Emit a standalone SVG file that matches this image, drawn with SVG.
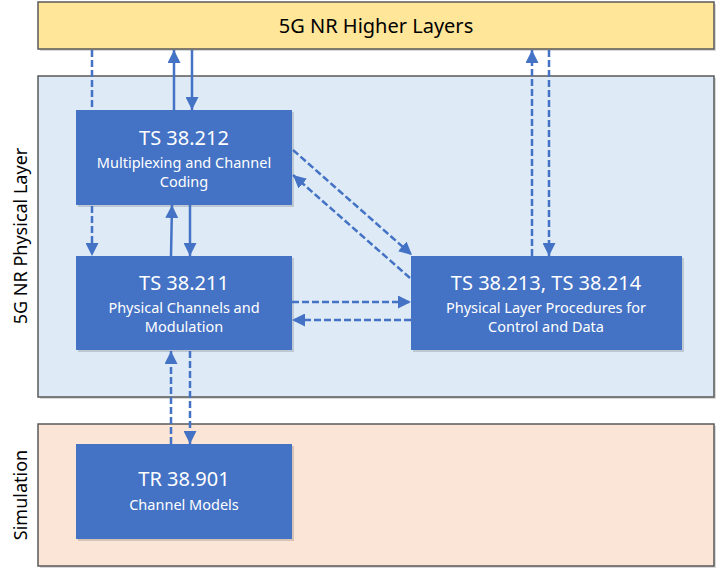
<svg xmlns="http://www.w3.org/2000/svg" width="720" height="572" viewBox="0 0 720 572">
<style>
.panel{stroke:#595959;stroke-width:1.5}
.box{fill:#4472C4}
.shadow{fill:#000;opacity:0.15}
.t1{font-family:"Noto Sans","Open Sans",sans-serif;font-size:20px;fill:#fff;text-anchor:middle}
.t2{font-family:"Noto Sans","Open Sans",sans-serif;font-size:14.5px;fill:#fff;text-anchor:middle}
.lab{font-family:"Noto Sans","Open Sans",sans-serif;font-size:18px;fill:#000;text-anchor:middle}
.c{fill:none;stroke:#4472C4;stroke-width:2.5}
.d{stroke-dasharray:7 3}
</style>
<defs>
<marker id="ah" markerUnits="userSpaceOnUse" markerWidth="13" markerHeight="13" viewBox="0 0 10 10" refX="10" refY="5" orient="auto">
<path d="M0,0 L10,5 L0,10 z" fill="#4472C4"/>
</marker>
</defs>

<g id="higher-layers">
<rect x="40" y="4" width="676" height="47" class="shadow"/>
<rect x="38" y="2" width="676" height="47" fill="#FFE699" class="panel"/>
<text x="376" y="33" class="lab" style="font-size:20px">5G NR Higher Layers</text>
</g>

<g id="physical-layer">
<rect x="40" y="78" width="676" height="321" class="shadow"/>
<rect x="38" y="76" width="676" height="321" fill="#DEEBF7" class="panel"/>
<text transform="translate(27,236) rotate(-90)" class="lab">5G NR Physical Layer</text>
</g>

<g id="simulation">
<rect x="40" y="426" width="676" height="142" class="shadow"/>
<rect x="38" y="424" width="676" height="142" fill="#FBE5D6" class="panel"/>
<text transform="translate(27,495) rotate(-90)" class="lab">Simulation</text>
</g>

<g id="ts38212">
<rect x="78" y="112" width="216" height="95" class="shadow"/>
<rect x="76" y="110" width="216" height="95" class="box"/>
<text x="184" y="145" class="t1">TS 38.212</text>
<text x="184" y="168" class="t2">Multiplexing and Channel</text>
<text x="184" y="187" class="t2">Coding</text>
</g>

<g id="ts38211">
<rect x="78" y="258" width="216" height="94" class="shadow"/>
<rect x="76" y="256" width="216" height="94" class="box"/>
<text x="184" y="290" class="t1">TS 38.211</text>
<text x="184" y="313" class="t2">Physical Channels and</text>
<text x="184" y="332" class="t2">Modulation</text>
</g>

<g id="ts38213">
<rect x="413" y="258" width="271" height="94" class="shadow"/>
<rect x="411" y="256" width="271" height="94" class="box"/>
<text x="546" y="290" class="t1">TS 38.213, TS 38.214</text>
<text x="546" y="313" class="t2">Physical Layer Procedures for</text>
<text x="546" y="332" class="t2">Control and Data</text>
</g>

<g id="tr38901">
<rect x="78" y="446" width="216" height="95" class="shadow"/>
<rect x="76" y="444" width="216" height="95" class="box"/>
<text x="184" y="486" class="t1">TR 38.901</text>
<text x="184" y="510" class="t2">Channel Models</text>
</g>

<g id="connectors">
<line x1="92" y1="50" x2="92" y2="110" class="c d"/>
<line x1="174" y1="110" x2="174" y2="50" class="c" marker-end="url(#ah)"/>
<line x1="192" y1="50" x2="192" y2="110" class="c" marker-end="url(#ah)"/>
<line x1="92" y1="206" x2="92" y2="256" class="c d" marker-end="url(#ah)"/>
<line x1="171" y1="256" x2="172" y2="205" class="c" marker-end="url(#ah)"/>
<line x1="190" y1="205" x2="190" y2="256" class="c" marker-end="url(#ah)"/>
<line x1="293" y1="150" x2="412" y2="255" class="c d" marker-end="url(#ah)"/>
<line x1="410" y1="278" x2="293" y2="175" class="c d" marker-end="url(#ah)"/>
<line x1="292" y1="302" x2="411" y2="302" class="c d" marker-end="url(#ah)"/>
<line x1="411" y1="320" x2="292" y2="320" class="c d" marker-end="url(#ah)"/>
<line x1="532" y1="256" x2="532" y2="50" class="c d" marker-end="url(#ah)"/>
<line x1="549" y1="50" x2="549" y2="256" class="c d" marker-end="url(#ah)"/>
<line x1="171" y1="444" x2="171" y2="351" class="c d" marker-end="url(#ah)"/>
<line x1="190" y1="351" x2="190" y2="444" class="c d" marker-end="url(#ah)"/>
</g>
</svg>
